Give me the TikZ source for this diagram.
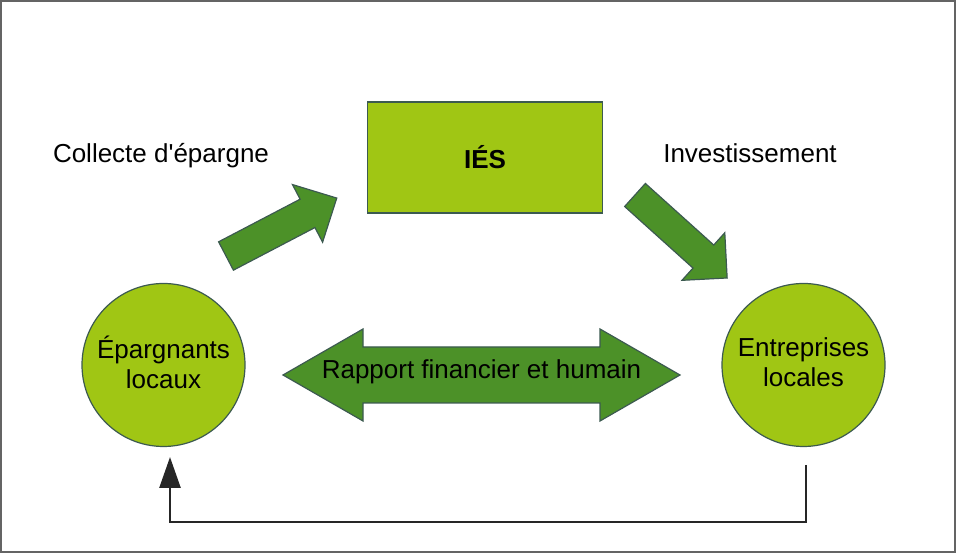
\documentclass[tikz,border=0pt]{standalone}
\usepackage{fontspec}
\setmainfont{Liberation Sans}[Ligatures=TeXOff]
\usetikzlibrary{arrows.meta}
\definecolor{lightgreen}{RGB}{160,198,20}
\definecolor{darkgreen}{RGB}{76,145,40}
\definecolor{edgegray}{RGB}{60,90,80}
\definecolor{framegray}{RGB}{100,100,100}
\tikzset{
  txt/.style={font=\fontsize{26}{30}\selectfont, text=black, align=center, inner sep=0pt},
  greenbox/.style={draw=edgegray, line width=1.2pt, fill=lightgreen},
  greencircle/.style={circle, draw=edgegray, line width=1.2pt, fill=lightgreen, minimum size=163pt, inner sep=0pt},
  bigarrow/.style={draw=edgegray, line width=1.2pt, fill=darkgreen, line join=miter},
  flow/.style={draw=black!85, line width=2.6pt, line join=miter}
}
\begin{document}
\begin{tikzpicture}[x=1pt,y=1pt]
\useasboundingbox (0,0) rectangle (956,553);
\draw[framegray, line width=2pt] (1,1) rectangle (955,552);

% IES box
\node[greenbox, minimum width=235pt, minimum height=111pt, inner sep=0pt, font=\fontsize{26}{30}\selectfont\bfseries] (ies) at (485,395.5) {IÉS};

% circles
\node[greencircle] (epar) at (163.5,188) {};
\node[txt] (epartxt) at (163.5,191) {Épargnants\\locaux};
\node[greencircle] (entr) at (803.5,188) {};
\node[txt] (entrtxt) at (803.5,191) {Entreprises\\locales};

% labels
\node[txt] (collecte) at (161,397.5) {Collecte d'épargne};
\node[txt] (invest) at (750,400) {Investissement};

% up-right arrow
\draw[bigarrow, shift={(226,297)}, rotate=27.6]
  (0,-16) -- (92,-16) -- (92,-32.5) -- (125,0) -- (92,32.5) -- (92,16) -- (0,16) -- cycle;
% down-right arrow
\draw[bigarrow, shift={(635,358)}, rotate=-42]
  (0,-15.5) -- (92,-15.5) -- (92,-32) -- (124,0) -- (92,32) -- (92,15.5) -- (0,15.5) -- cycle;

% double arrow
\draw[bigarrow]
  (283,178) -- (363,224) -- (363,206) -- (600,206) -- (600,224) -- (680,178)
  -- (600,132) -- (600,150) -- (363,150) -- (363,132) -- cycle;
\node[txt] (rapport) at (481.5,181) {Rapport financier et humain};

% bottom connector
\coordinate (fstart) at (806,88);
\coordinate (fend) at (170,96);
\draw[flow, -{Triangle[length=31pt,width=21pt]}] (fstart) |- (170,31) -- (fend);
\end{tikzpicture}
\end{document}
